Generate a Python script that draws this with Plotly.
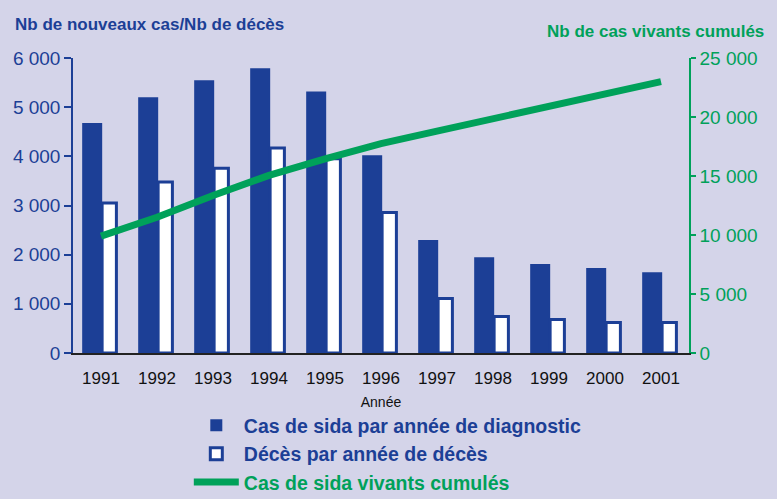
import plotly.graph_objects as go

# annees et valeurs
annees = ["1991", "1992", "1993", "1994", "1995", "1996", "1997", "1998", "1999", "2000", "2001"]
cas_diagnostic = [4680, 5200, 5550, 5790, 5320, 4020, 2300, 1945, 1810, 1730, 1640]
deces = [3050, 3480, 3760, 4170, 3950, 2860, 1110, 740, 680, 620, 620]
vivants_cumules = [9900, 11500, 13350, 15050, 16450, 17750, 18800, 19850, 20900, 21950, 23000]

BLEU = "#1c3f96"
VERT = "#00a15a"
FOND = "#d4d4e9"
POLICE = "Liberation Sans, Arial, sans-serif"

fig = go.Figure()
fig.add_trace(go.Bar(
    x=annees, y=cas_diagnostic, legendgroup="a",
    name=f"<b><span style='color:{BLEU}'>Cas de sida par année de diagnostic</span></b>",
    marker=dict(color=BLEU, line=dict(width=0)),
    width=0.357, offset=-0.336,
))
fig.add_trace(go.Bar(
    x=annees, y=deces, legendgroup="b",
    name=f"<b><span style='color:{BLEU}'>Décès par année de décès</span></b>",
    marker=dict(color="white", line=dict(color=BLEU, width=3)),
    width=0.255, offset=0.02,
))
fig.add_trace(go.Scatter(
    x=annees, y=vivants_cumules, yaxis="y2", mode="lines", legendgroup="c",
    name=f"<b><span style='color:{VERT}'>Cas de sida vivants cumulés</span></b>",
    line=dict(color=VERT, width=7),
))

fig.update_layout(
    width=777, height=499,
    margin=dict(l=73, r=88, t=58, b=146, autoexpand=False),
    paper_bgcolor=FOND, plot_bgcolor=FOND,
    font=dict(family=POLICE, size=16, color=BLEU),
    separators=", ",
    barmode="overlay",
    xaxis=dict(
        showgrid=False, showline=True, linecolor="#222222", linewidth=1.5,
        ticks="", tickfont=dict(color="#111111", size=17), ticklabelstandoff=9,
        title=dict(text="Année", font=dict(color="#111111", size=14), standoff=10),
    ),
    yaxis=dict(
        range=[0, 6000], dtick=1000, tickformat=",d",
        showgrid=False, zeroline=False, showline=True, linecolor=BLEU, linewidth=1.5,
        ticks="outside", ticklen=7, tickcolor=BLEU, tickwidth=1.5,
        tickfont=dict(color=BLEU, size=19),
    ),
    yaxis2=dict(
        range=[0, 25000], dtick=5000, tickformat=",d", overlaying="y", side="right",
        showgrid=False, zeroline=False, showline=True, linecolor=VERT, linewidth=1.5,
        ticks="outside", ticklen=5, tickcolor=VERT, tickwidth=1.5,
        tickfont=dict(color=VERT, size=19),
    ),
    legend=dict(
        x=0.188, y=-0.18, xanchor="left", yanchor="top",
        bgcolor="rgba(0,0,0,0)", font=dict(size=19.5), itemwidth=45,
        tracegroupgap=0,
    ),
    showlegend=True,
    annotations=[
        dict(text="<b>Nb de nouveaux cas/Nb de décès</b>", xref="paper", yref="paper",
             x=-0.097, y=1.075, xanchor="left", yanchor="bottom", showarrow=False,
             font=dict(color=BLEU, size=17)),
        dict(text="<b>Nb de cas vivants cumulés</b>", xref="paper", yref="paper",
             x=1.125, y=1.05, xanchor="right", yanchor="bottom", showarrow=False,
             font=dict(color=VERT, size=17)),
    ],
)

fig.write_html("out.html", config={"displayModeBar": False},
               post_script="document.body.style.margin='0';")
